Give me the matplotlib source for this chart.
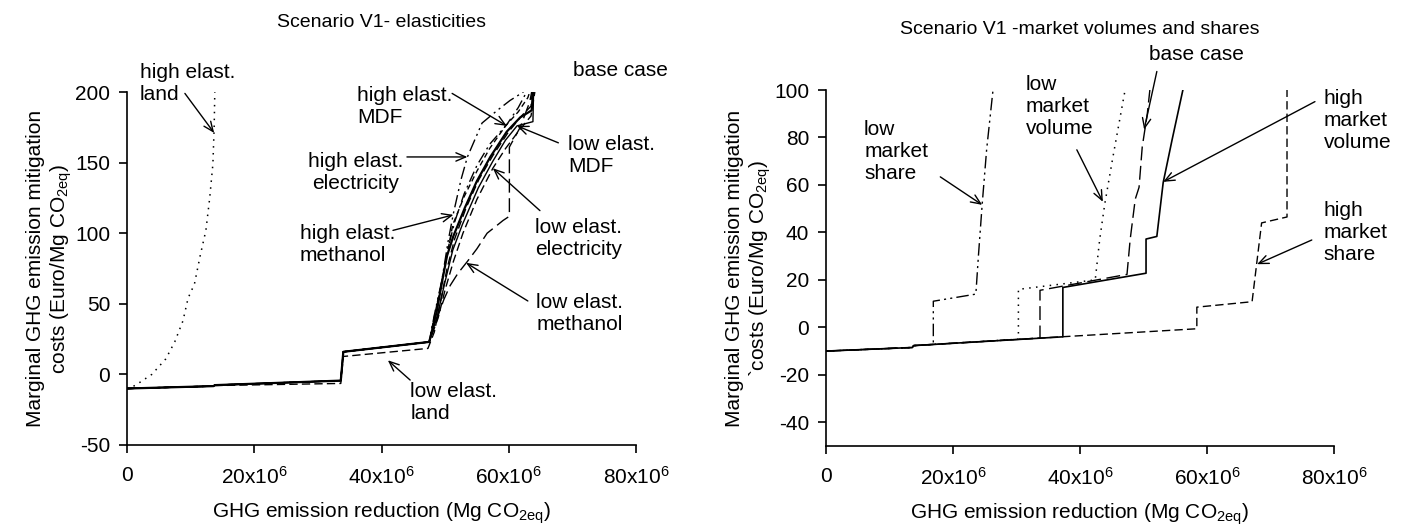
import matplotlib
matplotlib.use("Agg")
import matplotlib.pyplot as plt

plt.rcParams['font.family'] = ['Liberation Sans', 'DejaVu Sans']
plt.rcParams['mathtext.fontset'] = 'custom'
plt.rcParams['mathtext.rm'] = 'Liberation Sans'
plt.rcParams['mathtext.it'] = 'Liberation Sans:italic'
plt.rcParams['axes.unicode_minus'] = False

# ---------------------------------------------------------------
# Marginal abatement cost curves, x in 10^6 Mg CO2eq, y in Euro/Mg
# ---------------------------------------------------------------

# Scenario V1 - elasticities
base_x = [0, 13.6, 13.8, 33.6, 34.0, 47.5, 48.7, 49.7, 50.3, 51.3, 53.1, 55.0, 57.1, 59.7, 61.8, 63.6, 63.8]
base_y = [-10, -8.3, -7.6, -4.4, 16.0, 23.0, 45, 70, 84, 98, 118, 137, 154, 172, 182, 187, 200]

hi_mdf_x = [0, 13.6, 13.8, 33.6, 34.0, 47.5, 48.5, 49.5, 50.5, 51.5, 53.0, 55.0, 57.0, 59.7, 61.5, 62.8]
hi_mdf_y = [-10, -8.3, -7.6, -4.4, 16.0, 23.0, 44, 66, 90, 108, 128, 148, 163, 177, 189, 200]

lo_mdf_x = [0, 13.6, 13.8, 33.6, 34.0, 47.5, 48.8, 49.9, 51.2, 52.7, 55.2, 57.5, 59.5, 61.3, 63.8, 63.9]
lo_mdf_y = [-10, -8.3, -7.6, -4.4, 16.0, 23.0, 42, 64, 88, 106, 132, 151, 166, 176, 179, 200]

hi_elec_x = [0, 13.6, 13.8, 33.6, 34.0, 47.5, 48.3, 49.5, 50.5, 51.3, 52.5, 53.5, 55.8, 58.2, 60.2, 62.3]
hi_elec_y = [-10, -8.3, -7.6, -4.4, 16.0, 23.0, 42, 67, 95, 114, 138, 154, 178, 187, 194, 200]

lo_elec_x = [0, 13.6, 13.8, 33.6, 34.0, 47.5, 48.9, 50.0, 51.3, 52.8, 55.0, 57.5, 59.5, 61.5, 63.5, 64.1]
lo_elec_y = [-10, -8.3, -7.6, -4.4, 16.0, 23.0, 40, 60, 80, 100, 124, 146, 160, 172, 183, 200]

hi_meth_x = [0, 13.6, 13.8, 33.6, 34.0, 47.5, 48.4, 49.5, 51.2, 53.0, 55.0, 57.0, 59.5, 61.5, 63.0, 63.3]
hi_meth_y = [-10, -8.3, -7.6, -4.4, 16.0, 23.0, 43, 66, 106, 126, 144, 160, 176, 186, 196, 200]

lo_meth_x = [0, 13.6, 13.8, 33.6, 34.0, 47.5, 48.6, 49.8, 50.8, 52.0, 53.5, 55.0, 56.6, 58.0, 59.1, 60.1, 60.1, 61.8, 63.3, 63.6]
lo_meth_y = [-10, -8.3, -7.6, -4.4, 16.0, 23.0, 38, 53, 63, 71.5, 80, 89, 100, 105, 109, 112, 161, 175, 193, 200]

hi_land_x = [0, 1.3, 3.9, 6.1, 7.5, 8.8, 9.6, 10.6, 11.5, 12.4, 13.0, 13.5, 13.7, 13.8]
hi_land_y = [-10, -7.8, 0, 11, 23, 38, 54, 64, 84, 102, 125, 149, 175, 200]

lo_land_x = [0, 13.6, 13.8, 33.6, 34.0, 47.3, 48.3, 49.3, 50.3, 51.5, 53.3, 55.3, 57.5, 60.0, 62.0, 63.5, 63.7]
lo_land_y = [-10, -8.3, -7.9, -6.4, 12.7, 18.4, 30, 52, 75, 96, 118, 138, 155, 172, 183, 190, 200]

# Scenario V1 - market volumes and shares
lo_share_x = [0, 13.6, 13.8, 16.9, 16.9, 23.6, 24.0, 24.6, 25.3, 26.3]
lo_share_y = [-10, -8.5, -7.7, -7.2, 11.0, 14.0, 30, 52, 75, 100]

lo_vol_x = [0, 13.6, 13.8, 30.3, 30.3, 42.4, 43.1, 43.9, 45.2, 47.1]
lo_vol_y = [-10, -8.5, -7.7, -5.0, 16.0, 20.0, 37, 52, 72, 100]

mv_base_x = [0, 13.6, 13.8, 33.7, 33.7, 47.4, 47.9, 48.7, 49.3, 49.8, 50.6, 51.0]
mv_base_y = [-10, -8.5, -7.7, -4.5, 15.6, 22.3, 37, 54, 59, 76, 90, 100]

hi_vol_x = [0, 13.6, 13.8, 37.3, 37.3, 50.4, 50.4, 52.1, 53.1, 54.5, 56.2]
hi_vol_y = [-10, -8.5, -7.7, -4.0, 16.8, 22.8, 37.2, 38.3, 61, 79, 100]

hi_share_x = [0, 13.6, 13.8, 58.4, 58.4, 67.1, 68.6, 72.6, 72.6]
hi_share_y = [-10, -8.5, -7.7, -0.6, 8.5, 10.8, 44, 46.5, 100]

x_ticks = [0, 20, 40, 60, 80]
x_tick_labels = ['0', '20x10$^6$', '40x10$^6$', '60x10$^6$', '80x10$^6$']
left_y_ticks = [-50, 0, 50, 100, 150, 200]
right_y_ticks = [-40, -20, 0, 20, 40, 60, 80, 100]

# line styles
SOLID = dict(color='black', lw=1.0)
DASHED = dict(color='black', lw=1.0, dashes=(6, 3))
LONGDASH = dict(color='black', lw=1.0, dashes=(10, 4))
SHORTDASH = dict(color='black', lw=1.0, dashes=(4, 2.5))
DASHDOT = dict(color='black', lw=1.0, dashes=(8, 3, 1.5, 3))
DASHDOTDOT = dict(color='black', lw=1.0, dashes=(9, 3, 1.5, 3, 1.5, 3))
DOTTED = dict(color='black', lw=1.1, dashes=(1, 3.5))

FS = 15

fig = plt.figure(figsize=(14.06, 5.30), dpi=100)
ax1 = fig.add_axes([127 / 1406, 1 - 445 / 530, 509 / 1406, 353 / 530])
ax2 = fig.add_axes([826 / 1406, 1 - 446 / 530, 508 / 1406, 356 / 530])


def style_axes(ax, yticks, ylim):
    ax.set_xlim(0, 80)
    ax.set_ylim(*ylim)
    ax.spines['top'].set_visible(False)
    ax.spines['right'].set_visible(False)
    for s in ('left', 'bottom'):
        ax.spines[s].set_linewidth(1.2)
    ax.set_xticks(x_ticks)
    ax.set_xticklabels(x_tick_labels)
    ax.set_yticks(yticks)
    ax.set_yticklabels([str(v) for v in yticks])
    ax.tick_params(direction='out', length=6, width=1.2, labelsize=FS, pad=6)
    ax.tick_params(axis='x', pad=9)
    ax.set_xlabel('GHG emission reduction (Mg CO$_{\\mathrm{2eq}}$)', fontsize=FS, labelpad=9)


def arrow(ax, tip, start):
    ax.annotate('', xy=tip, xytext=start,
                arrowprops=dict(arrowstyle='->,head_length=0.7,head_width=0.3',
                                color='black', lw=1.0, shrinkA=0, shrinkB=0))


# ---- left panel ----
ax1.plot(hi_land_x, hi_land_y, **DOTTED)
ax1.plot(lo_land_x, lo_land_y, **DASHED)
ax1.plot(lo_meth_x, lo_meth_y, **LONGDASH)
ax1.plot(hi_meth_x, hi_meth_y, **SHORTDASH)
ax1.plot(lo_elec_x, lo_elec_y, **DASHED)
ax1.plot(hi_elec_x, hi_elec_y, **DASHDOTDOT)
ax1.plot(lo_mdf_x, lo_mdf_y, **SOLID)
ax1.plot(hi_mdf_x, hi_mdf_y, **DASHDOT)
ax1.plot(base_x, base_y, color='black', lw=1.6)

style_axes(ax1, left_y_ticks, (-50, 200))
ax1.set_title('Scenario V1- elasticities', fontsize=14, pad=47)
ax1.set_ylabel('Marginal GHG emission mitigation\ncosts (Euro/Mg CO$_{\\mathrm{2eq}}$)', fontsize=FS)
ax1.yaxis.set_label_coords(-0.105, 0.5)

ax1.text(2.0, 206, 'high elast.\nland', fontsize=FS, va='center', ha='left')
arrow(ax1, (13.7, 171), (9.1, 199))
ax1.text(36.2, 190, 'high elast.\nMDF', fontsize=FS, va='center', ha='left')
arrow(ax1, (59.7, 176), (51.1, 199))
ax1.text(36.0, 143, 'high elast.\nelectricity', fontsize=FS, va='center', ha='center')
arrow(ax1, (53.5, 154), (44.0, 154))
ax1.text(27.2, 92, 'high elast.\nmethanol', fontsize=FS, va='center', ha='left')
arrow(ax1, (51.3, 113), (41.8, 102))
ax1.text(70.1, 215, 'base case', fontsize=FS, va='center', ha='left')
arrow(ax1, (65.1, 201), (68.9, 215))
ax1.text(69.3, 155, 'low elast.\nMDF', fontsize=FS, va='center', ha='left')
arrow(ax1, (61.3, 176), (67.8, 164))
ax1.text(64.2, 96, 'low elast.\nelectricity', fontsize=FS, va='center', ha='left')
arrow(ax1, (57.5, 146), (64.9, 116))
ax1.text(64.3, 43, 'low elast.\nmethanol', fontsize=FS, va='center', ha='left')
arrow(ax1, (53.3, 79), (63.0, 52))
ax1.text(44.5, -20, 'low elast.\nland', fontsize=FS, va='center', ha='left')
arrow(ax1, (41.0, 10), (44.5, -4))

# ---- right panel ----
ax2.plot(hi_share_x, hi_share_y, **DASHED)
ax2.plot(lo_share_x, lo_share_y, **DASHDOTDOT)
ax2.plot(lo_vol_x, lo_vol_y, **DOTTED)
ax2.plot(mv_base_x, mv_base_y, **LONGDASH)
ax2.plot(hi_vol_x, hi_vol_y, color='black', lw=1.2)

style_axes(ax2, right_y_ticks, (-50, 100))
ax2.set_title('Scenario V1 -market volumes and shares', fontsize=14, pad=40)
ax2.set_ylabel('Marginal GHG emission mitigation\n`costs (Euro/Mg CO$_{\\mathrm{2eq}}$)', fontsize=FS)
ax2.yaxis.set_label_coords(-0.105, 0.5)

ax2.text(6.0, 74, 'low\nmarket\nshare', fontsize=FS, va='center', ha='left')
arrow(ax2, (24.6, 51.6), (18.0, 63.4))
ax2.text(31.5, 93, 'low\nmarket\nvolume', fontsize=FS, va='center', ha='left')
arrow(ax2, (43.6, 52.9), (39.5, 74.8))
ax2.text(50.9, 115, 'base case', fontsize=FS, va='center', ha='left')
arrow(ax2, (50.1, 83.3), (52.1, 107.8))
ax2.text(78.4, 87, 'high\nmarket\nvolume', fontsize=FS, va='center', ha='left')
arrow(ax2, (53.1, 61.3), (77.0, 95.1))
ax2.text(78.3, 40, 'high\nmarket\nshare', fontsize=FS, va='center', ha='left')
arrow(ax2, (67.9, 26.6), (76.5, 36.8))

fig.savefig('out.png', dpi=100)
